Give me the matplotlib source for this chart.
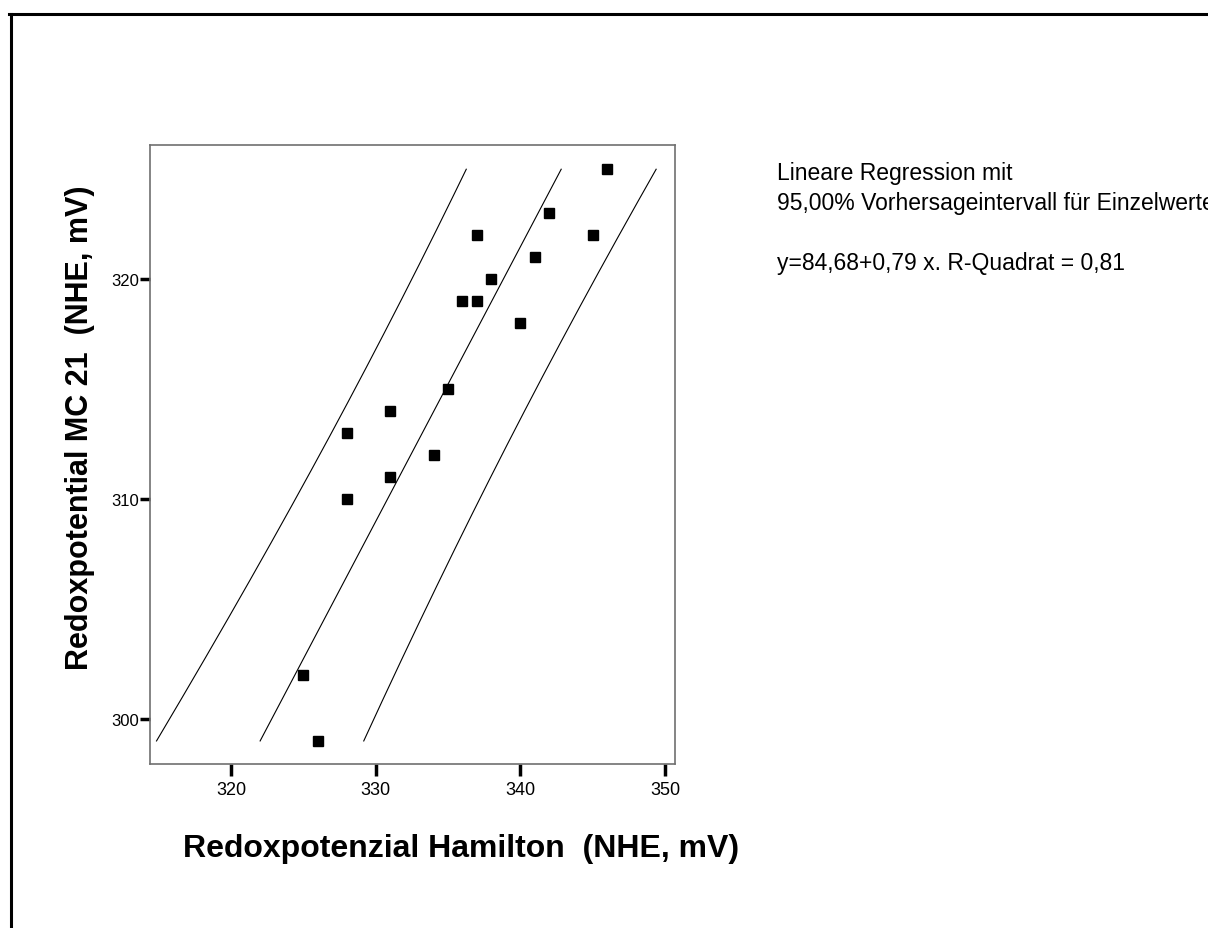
import numpy as np
import matplotlib.pyplot as plt
import matplotlib.lines as mlines

plt.rcParams['font.family'] = ['Liberation Sans', 'DejaVu Sans']

hamilton = [325, 326, 328, 328, 331, 331, 334, 335, 336, 337, 337, 338, 340, 341, 342, 345, 346]
mc21 = [302, 299, 310, 313, 314, 311, 312, 315, 319, 319, 322, 320, 318, 321, 323, 322, 325]

xticks = [320, 330, 340, 350]
yticks = [300, 310, 320]

x = np.array(hamilton, dtype=float)
y = np.array(mc21, dtype=float)
n = len(x)

# Regression (Hamilton auf MC 21) mit 95% Vorhersageintervall
b, a = np.polyfit(y, x, 1)
resid = x - (a + b * y)
se = np.sqrt(np.sum(resid ** 2) / (n - 2))
t_crit = 2.131  # t(0.975, df=15)
yy = np.linspace(y.min(), y.max(), 200)
syy = np.sum((y - y.mean()) ** 2)
half = t_crit * se * np.sqrt(1 + 1 / n + (yy - y.mean()) ** 2 / syy)
fit = a + b * yy

fig = plt.figure(figsize=(12.08, 9.29), dpi=100)
ax = fig.add_axes([0.1242, 0.1765, 0.4346, 0.6663])

for xl in (fit - half, fit, fit + half):
    ax.plot(xl, yy, color='black', lw=0.8)
ax.plot(x, y, 's', color='black', markersize=7.3, linestyle='none')

ax.set_xlim(314.4, 350.7)
ax.set_ylim(297.95, 326.1)
ax.set_xticks(xticks)
ax.set_yticks(yticks)
ax.tick_params(axis='x', direction='out', length=8.5, width=2.5, labelsize=13, pad=4)
ax.tick_params(axis='y', direction='out', length=7, width=2.5, labelsize=12, pad=1)
for s in ax.spines.values():
    s.set_color('#707070')
    s.set_linewidth(1.2)

fig.text(0.382, 0.086, 'Redoxpotenzial Hamilton  (NHE, mV)', fontsize=23,
         fontweight='bold', ha='center', va='center')
fig.text(0.066, 0.540, 'Redoxpotential MC 21  (NHE, mV)', fontsize=22,
         fontweight='bold', ha='center', va='center', rotation=90)

fig.text(0.643, 0.8062, 'Lineare Regression mit', fontsize=16.5, va='baseline')
fig.text(0.643, 0.7740, '95,00% Vorhersageintervall für Einzelwerte', fontsize=16.5, va='baseline')
fig.text(0.643, 0.7094, 'y=84,68+0,79 x. R-Quadrat = 0,81', fontsize=16.5, va='baseline')

# Rahmen links und oben
fig.add_artist(mlines.Line2D([0.00886, 0.00886], [0.0, 0.9835], color='black', lw=2.2,
                             transform=fig.transFigure))
fig.add_artist(mlines.Line2D([0.0078, 1.0], [0.9835, 0.9835], color='black', lw=2.2,
                             transform=fig.transFigure))

fig.savefig('out.png', dpi=100)
